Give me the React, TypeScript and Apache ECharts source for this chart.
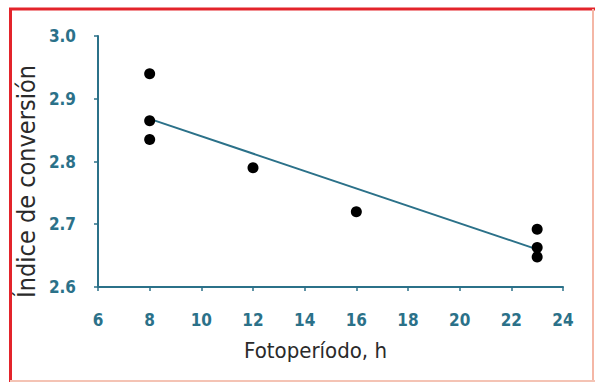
import React, { useEffect, useRef } from "react";
import * as echarts from "echarts";

const photoperiodH = [8, 8, 8, 12, 16, 23, 23, 23];
const conversionIndex = [2.94, 2.865, 2.835, 2.79, 2.72, 2.692, 2.663, 2.648];
const regressionX = [8, 23];
const regressionY = [2.868, 2.66];
const xTicks = [6, 8, 10, 12, 14, 16, 18, 20, 22, 24];
const yTicks = [2.6, 2.7, 2.8, 2.9, 3.0];

const TEAL = "#2b7189";
const FONT = "'DejaVu Sans Condensed', 'Liberation Sans Narrow', 'Open Sans', sans-serif";

export default function App() {
  const ref = useRef<HTMLDivElement>(null);
  useEffect(() => {
    if (!ref.current) return;
    const chart = echarts.init(ref.current, null, { renderer: "svg" });
    chart.setOption({
      animation: false,
      backgroundColor: "#ffffff",
      grid: { left: 98, right: 32, top: 36, bottom: 95 },
      xAxis: {
        type: "value",
        min: xTicks[0],
        max: xTicks[xTicks.length - 1],
        interval: 2,
        name: "Fotoperíodo, h",
        nameLocation: "middle",
        nameGap: 52,
        nameMoveOverlap: false,
        nameTextStyle: { color: "#2a2a2a", fontSize: 22, fontFamily: FONT, padding: [0, 30, 0, 0] },
        axisLine: { lineStyle: { color: TEAL, width: 2 } },
        axisTick: { length: 4, lineStyle: { color: TEAL, width: 1.5 } },
        axisLabel: {
          color: TEAL,
          fontSize: 17,
          fontWeight: "bold",
          fontFamily: FONT,
          margin: 24,
        },
        splitLine: { show: false },
      },
      yAxis: {
        type: "value",
        min: yTicks[0],
        max: yTicks[yTicks.length - 1],
        interval: 0.1,
        name: "Índice de conversión",
        nameLocation: "middle",
        nameGap: 59,
        nameMoveOverlap: false,
        nameRotate: 90,
        nameTextStyle: { color: "#2a2a2a", fontSize: 25, fontFamily: FONT, padding: [0, 40, 0, 0] },
        axisLine: { show: true, lineStyle: { color: TEAL, width: 2 } },
        axisTick: { show: true, length: 4, lineStyle: { color: TEAL, width: 1.5 } },
        axisLabel: {
          color: TEAL,
          fontSize: 17,
          fontWeight: "bold",
          fontFamily: FONT,
          margin: 22,
          formatter: (v: number) => v.toFixed(1),
        },
        splitLine: { show: false },
      },
      series: [
        {
          type: "line",
          data: regressionX.map((x, i) => [x, regressionY[i]]),
          symbol: "none",
          lineStyle: { color: TEAL, width: 2 },
          z: 2,
        },
        {
          type: "scatter",
          data: photoperiodH.map((x, i) => [x, conversionIndex[i]]),
          symbolSize: 11,
          itemStyle: { color: "#000", opacity: 1 },
          z: 3,
        },
      ],
      graphic: [
        { type: "line", shape: { x1: 9, y1: 9, x2: 595, y2: 9 }, style: { stroke: "#e3242b", lineWidth: 3 } },
        { type: "line", shape: { x1: 10.5, y1: 8, x2: 10.5, y2: 382 }, style: { stroke: "#e3242b", lineWidth: 3 } },
        { type: "line", shape: { x1: 593, y1: 9, x2: 593, y2: 382 }, style: { stroke: "#f4b7a6", lineWidth: 2 } },
        { type: "line", shape: { x1: 10, y1: 381, x2: 595, y2: 381 }, style: { stroke: "#f4c3b4", lineWidth: 2 } },
      ],
    });
    return () => chart.dispose();
  }, []);
  return (
    <div
      ref={ref}
      style={{ position: "fixed", left: 0, top: 0, width: 595, height: 382 }}
    />
  );
}
